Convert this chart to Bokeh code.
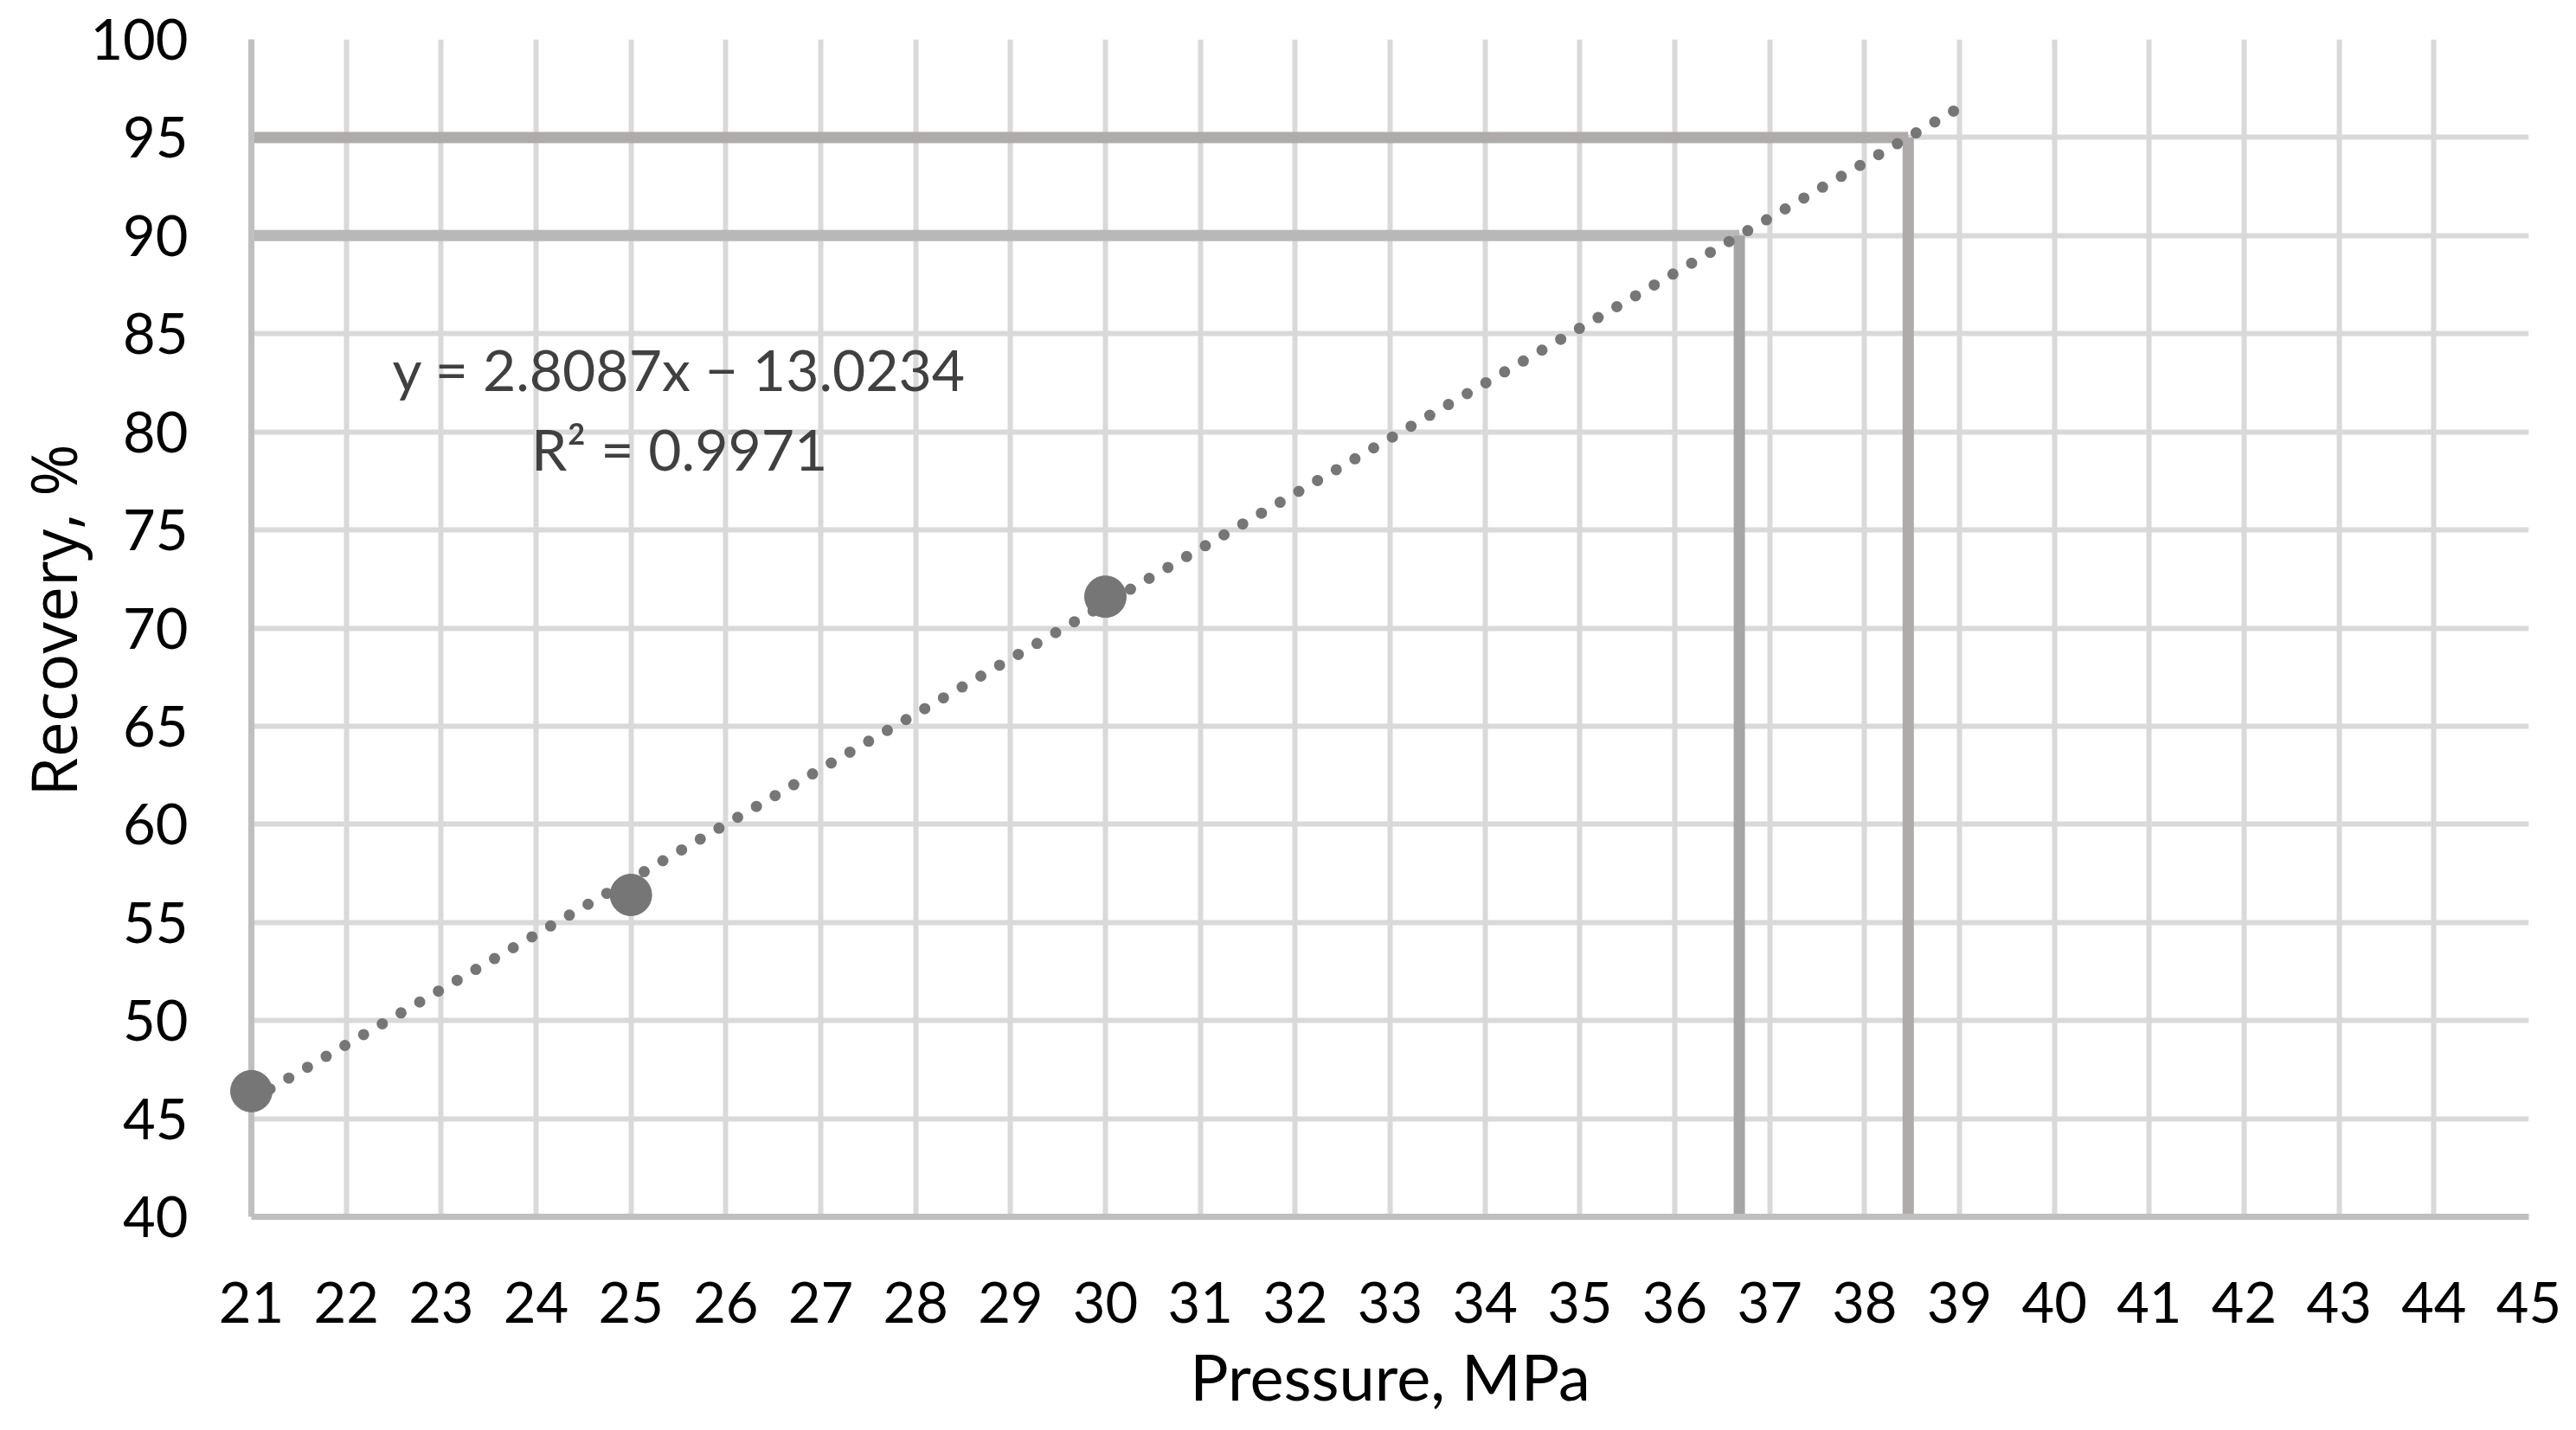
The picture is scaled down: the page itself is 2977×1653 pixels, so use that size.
import math
from bokeh.plotting import figure
from bokeh.models import Range1d, FixedTicker, Label
from bokeh.core.properties import value
from bokeh.embed import file_html
from bokeh.resources import INLINE

# ---- data ----
pressure = [21, 25, 30]
recovery = [46.4, 56.4, 71.6]

trend_x = [21, 39]
trend_y = [45.96, 96.52]

target_recovery = [90, 95]
target_pressure = [36.68, 38.46]

x_ticks = list(range(21, 46))
y_ticks = list(range(40, 101, 5))

eq_text = "y = 2.8087x \u2212 13.0234"
r2_text = "R\u00b2 = 0.9971"
x_title = "Pressure, MPa"
y_title = "Recovery, %"

TICK_FONT = "Lato"

p = figure(width=2961, height=1637,
           x_range=Range1d(x_ticks[0], x_ticks[-1]),
           y_range=Range1d(y_ticks[0], y_ticks[-1]),
           output_backend="svg", toolbar_location=None,
           min_border_left=290, min_border_right=39,
           min_border_top=45, min_border_bottom=231)
p.outline_line_color = None
p.background_fill_color = "white"
p.border_fill_color = "white"

for ax, ticks in ((p.xaxis, x_ticks), (p.yaxis, y_ticks)):
    ax.ticker = FixedTicker(ticks=ticks)
    ax.major_tick_line_color = None
    ax.minor_tick_line_color = None
    ax.major_tick_out = 0
    ax.major_tick_in = 0
    ax.minor_tick_out = 0
    ax.axis_line_color = "#BFBFBF"
    ax.axis_line_width = 7
    ax.major_label_text_font = TICK_FONT
    ax.major_label_text_font_size = "65px"
    ax.major_label_text_color = "#000000"

p.xaxis.major_label_standoff = 75
p.yaxis.major_label_standoff = 73

p.xgrid.ticker = FixedTicker(ticks=x_ticks)
p.ygrid.ticker = FixedTicker(ticks=y_ticks)
for g in (p.xgrid, p.ygrid):
    g.grid_line_color = "#D9D9D9"
    g.grid_line_width = 6

# reference lines (90 % and 95 % recovery)
h_colors = ["#B8B8B8", "#AFABAB"]
v_colors = ["#A6A6A6", "#AFABAB"]
x0 = [x_ticks[0]] * len(target_recovery)
p.segment(x0=x0, y0=target_recovery, x1=target_pressure, y1=target_recovery,
          line_color=h_colors, line_width=13)
y0 = [y_ticks[0]] * len(target_recovery)
p.segment(x0=target_pressure, y0=y0, x1=target_pressure, y1=target_recovery,
          line_color=v_colors, line_width=13)

# linear trend line (dotted)
p.line(trend_x, trend_y, line_color="#767676", line_width=13,
       line_dash="0 25", line_cap="round")

# measured points (overlay level so the point on the axis is not cut)
p.scatter(pressure, recovery, size=48, fill_color="#767676",
          line_color="#767676", level="overlay")

# trend equation
p.add_layout(Label(x=25.51, y=83.2, text=eq_text, text_align="center",
                   text_baseline="alphabetic", text_font=TICK_FONT,
                   text_font_size="66px", text_color="#404040"))
p.add_layout(Label(x=25.51, y=79.13, text=r2_text, text_align="center",
                   text_baseline="alphabetic", text_font=TICK_FONT,
                   text_font_size="66px", text_color="#404040"))

# axis titles (overlay-level text so they may sit outside the frame)
p.text(x=[33.0], y=[31.88], text=[x_title], text_align="center",
       text_baseline="alphabetic", text_font=value(TICK_FONT),
       text_font_size="74px", text_color="#000000", level="overlay")
p.text(x=[18.90], y=[70.4], text=[y_title], angle=math.pi / 2,
       text_align="center", text_baseline="alphabetic",
       text_font=value("Open Sans"), text_font_size="73px",
       text_color="#000000", level="overlay")

open("out.html", "w").write(file_html(p, INLINE))
